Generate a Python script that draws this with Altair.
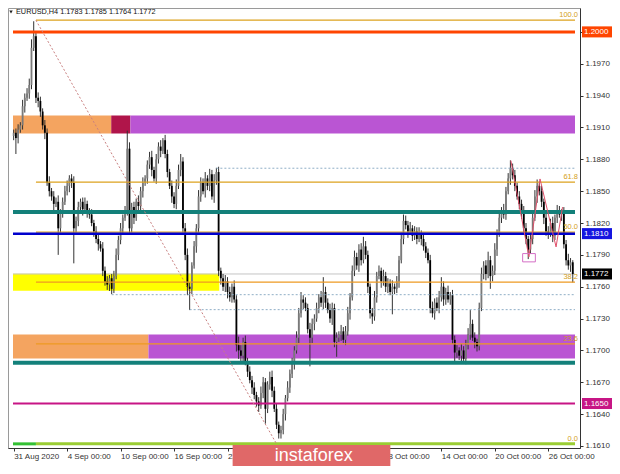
import json
import altair as alt
import pandas as pd

# ---------------- data (prices in pips above BASE) ----------------
BASE = 1.16
PIP = 0.0001

FIRST_OPEN = 302
CLOSE = [
    305, 300, 308, 312, 330, 338, 342, 350, 385, 396, 338, 335,
    325, 312, 305, 258, 250, 245, 238, 240, 215, 230, 240, 250,
    255, 262, 258, 215, 222, 235, 240, 233, 238, 230, 228, 220,
    212, 205, 200, 196, 175, 165, 162, 168, 158, 170, 190, 204,
    215, 225, 232, 290, 215, 235, 225, 240, 236, 250, 258, 262,
    275, 282, 270, 262, 280, 292, 288, 298, 285, 268, 255, 245,
    238, 255, 270, 278, 215, 190, 160, 158, 180, 198, 215, 245,
    258, 250, 262, 255, 266, 245, 260, 268, 175, 168, 160, 165,
    155, 150, 160, 148, 105, 100, 95, 108, 90, 80, 72, 65,
    58, 52, 48, 60, 70, 45, 68, 75, 62, 45, 30, 22,
    25, 40, 55, 65, 78, 88, 100, 112, 135, 148, 145, 140,
    120, 112, 125, 130, 140, 150, 145, 155, 145, 138, 130, 140,
    108, 112, 115, 118, 110, 118, 135, 150, 175, 188, 180, 195,
    185, 198, 190, 160, 135, 132, 150, 170, 175, 165, 170, 160,
    163, 155, 160, 158, 165, 185, 205, 222, 218, 212, 215, 208,
    212, 205, 210, 205, 198, 192, 185, 140, 135, 145, 140, 150,
    160, 148, 155, 148, 152, 110, 98, 100, 95, 100, 92, 105,
    115, 125, 112, 108, 104, 140, 172, 180, 172, 185, 170, 175,
    195, 210, 225, 232, 228, 250, 262, 272, 265, 255, 245, 238,
    230, 215, 205, 195, 205, 225, 245, 255, 250, 240, 225, 212,
    210, 220, 208, 225, 232, 228, 230, 200, 185, 180, 183, 172,
]
UP_WICK = [
    3, 4, 5, 3, 6, 4, 5, 6, 8, 14, 4, 5,
    4, 3, 5, 4, 6, 3, 5, 4, 6, 3, 4, 5,
    5, 3, 4, 6, 4, 5, 3, 4, 6, 3, 4, 5,
    3, 5, 4, 3, 6, 4, 5, 3, 4, 5, 6, 4,
    5, 3, 4, 17, 6, 4, 5, 3, 6, 4, 5, 3,
    4, 5, 6, 3, 5, 4, 6, 2, 5, 4, 3, 5,
    4, 6, 5, 7, 4, 5, 6, 4, 3, 5, 4, 6,
    5, 4, 6, 3, 5, 4, 6, 4, 5, 3, 4, 6,
    4, 5, 3, 6, 4, 8, 5, 4, 6, 3, 5, 4,
    5, 3, 4, 6, 5, 4, 3, 5, 6, 4, 5, 3,
    4, 5, 3, 6, 4, 5, 4, 6, 5, 7, 4, 5,
    4, 6, 5, 4, 5, 3, 6, 14, 5, 4, 6, 5,
    4, 5, 3, 6, 4, 5, 6, 4, 5, 6, 4, 5,
    6, 9, 5, 4, 3, 5, 6, 4, 5, 3, 6, 4,
    5, 4, 6, 3, 5, 4, 6, 6, 5, 4, 6, 3,
    5, 4, 6, 3, 5, 4, 4, 5, 6, 4, 5, 6,
    9, 5, 4, 6, 3, 5, 4, 5, 3, 6, 4, 5,
    6, 13, 4, 5, 3, 5, 6, 4, 5, 8, 4, 5,
    6, 4, 5, 3, 6, 4, 5, 7, 4, 5, 3, 5,
    4, 6, 5, 3, 5, 4, 6, 6, 4, 5, 3, 4,
    5, 4, 6, 3, 5, 4, 3, 5, 4, 6, 4, 2,
]
DOWN_WICK = [
    4, 15, 5, 3, 4, 6, 3, 5, 4, 3, 5, 6,
    5, 4, 6, 3, 5, 4, 6, 3, 25, 4, 5, 3,
    4, 6, 5, 33, 4, 5, 3, 6, 4, 5, 4, 3,
    5, 4, 6, 3, 5, 4, 5, 6, 5, 4, 3, 5,
    4, 6, 3, 5, 5, 4, 6, 3, 5, 4, 6, 3,
    5, 4, 6, 3, 5, 4, 6, 3, 4, 5, 3, 6,
    4, 5, 3, 6, 4, 5, 8, 20, 5, 3, 6, 4,
    5, 3, 6, 4, 5, 3, 6, 4, 5, 6, 4, 5,
    6, 4, 5, 3, 6, 8, 5, 6, 4, 5, 3, 6,
    4, 5, 6, 3, 5, 14, 4, 5, 6, 3, 4, 5,
    5, 4, 6, 3, 5, 4, 6, 3, 5, 4, 6, 3,
    4, 27, 5, 6, 3, 5, 4, 6, 5, 3, 4, 6,
    5, 14, 4, 6, 3, 5, 4, 6, 3, 5, 4, 6,
    5, 3, 4, 6, 5, 7, 4, 5, 3, 6, 4, 5,
    6, 3, 21, 5, 4, 6, 3, 5, 4, 6, 3, 5,
    4, 5, 3, 6, 4, 5, 3, 5, 4, 6, 3, 5,
    4, 6, 5, 3, 5, 4, 8, 5, 4, 6, 3, 5,
    4, 5, 3, 6, 5, 4, 3, 5, 6, 4, 12, 5,
    4, 6, 3, 5, 4, 5, 3, 6, 4, 5, 3, 5,
    6, 4, 5, 9, 4, 5, 3, 6, 4, 5, 6, 4,
    5, 3, 6, 4, 5, 3, 6, 4, 5, 4, 6, 8,
]

# time labels (those hidden behind the logo in the reference are not drawn)
X_TICKS = [0, 24, 48, 72, 96, 168, 192, 216, 240]
X_LABELS = ["31 Aug 2020", "4 Sep 00:00", "10 Sep 00:00", "16 Sep 00:00",
            "22 Sep 00:00", "8 Oct 00:00", "14 Oct 00:00", "20 Oct 00:00",
            "26 Oct 00:00"]
Y_TICKS = [1.1610, 1.1640, 1.1670, 1.1700, 1.1730, 1.1760, 1.1790, 1.1820,
           1.1850, 1.1880, 1.1910, 1.1940, 1.1970, 1.2000]

HEADER = "EURUSD,H4  1.1783 1.1785 1.1764 1.1772"

# zones (rectangles)
ZONE_X0 = [-0.3, 43.8, 52.4, -0.3, -0.3, 60.5]
ZONE_X1 = [43.8, 52.4, 252, 92.3, 60.5, 252]
ZONE_LO = [1.19044, 1.19044, 1.19044, 1.17563, 1.16925, 1.16925]
ZONE_HI = [1.19212, 1.19212, 1.19212, 1.17722, 1.17150, 1.17150]
ZONE_COLOR = ["#F4A460", "#B0154A", "#BA55D3", "#FFFF00", "#F4A460", "#BA55D3"]

# horizontal levels
LEVEL_PRICE = [1.2000, 1.2011, 1.18586, 1.18303, 1.18115, 1.1810, 1.17644,
               1.17062, 1.16883, 1.1650, 1.1612, 1.1612]
LEVEL_X0 = [-0.3, 10, 10, -0.3, 10, -0.3, 10, 10, -0.3, -0.3, -0.3, 10]
LEVEL_X1 = [252, 252, 252, 252, 252, 252, 252, 252, 252, 252, 10, 252]
LEVEL_COLOR = ["#FF4500", "#DCA21E", "#DCA21E", "#13807A", "#DCA21E", "#0000CD",
               "#EE9A22", "#EE9A22", "#13807A", "#C71585", "#33C033", "#9ACD32"]
LEVEL_WIDTH = [3, 1.3, 1.3, 4, 1.3, 2.5, 1.3, 1.3, 4, 2, 3, 3]

FIB_TEXT = ["100.0", "61.8", "50.0", "38.2", "23.6", "0.0"]
FIB_PRICE = [1.2011, 1.18586, 1.18115, 1.17644, 1.17062, 1.1612]

DOTTED_PRICE = [1.18716, 1.17525, 1.17384]
DOTTED_X0 = [91, 44, 79]

TREND_X = [10, 118]
TREND_P = [1.2011, 1.1612]

ZIG_X = [223.2, 231.3, 236.3, 243.5, 246.4]
ZIG_P = [1.18788, 1.17881, 1.18615, 1.17975, 1.18350]

BOX_X = [228.5, 234.2]
BOX_P = [1.17834, 1.17912]

TAG_TEXT = ["1.2000", "1.1810", "1.1772", "1.1650"]
TAG_PRICE = [1.2000, 1.1810, 1.1772, 1.1650]
TAG_COLOR = ["#FF4500", "#1515E0", "#000000", "#C71585"]

LAST_PRICE = 1.1772

LOGO_TEXT = "instaforex"
LOGO_X = [98.3, 169.1]
LOGO_P = [1.16109, 1.15910]
LOGO_BASELINE = 1.15955

# ---------------- build tables ----------------
df = pd.DataFrame({"i": list(range(len(CLOSE))), "c": CLOSE})
df["o"] = [FIRST_OPEN] + CLOSE[:-1]
df["h"] = df[["o", "c"]].max(axis=1) + pd.Series(UP_WICK)
df["l"] = df[["o", "c"]].min(axis=1) - pd.Series(DOWN_WICK)
df["col"] = ["#7a7a7a" if c >= o else "#000000" for o, c in zip(df["o"], df["c"])]
for k in ["o", "c", "h", "l"]:
    df[k] = BASE + df[k] * PIP

XS = alt.Scale(domain=[-0.3, 252], nice=False, zero=False)
YS = alt.Scale(domain=[1.16081, 1.20225], nice=False, zero=False)

label_expr = f"{json.dumps(X_LABELS)}[indexof({json.dumps(X_TICKS)}, datum.value)]"
X_AXIS = alt.Axis(values=X_TICKS, labelExpr=label_expr, labelAlign="left",
                  labelPadding=1, tickSize=3, grid=False, labelFlush=False,
                  labelOverlap=False, domainColor="#333", tickColor="#333",
                  labelColor="#333", labelFontSize=8, labelFont="Liberation Sans",
                  zindex=0)
Y_AXIS = alt.Axis(orient="right", values=Y_TICKS, format=".4f", tickSize=3,
                  labelPadding=2, grid=False, labelFlush=False, labelOverlap=False,
                  domainColor="#333", tickColor="#333", labelColor="#333",
                  labelFontSize=8, labelFont="Liberation Sans", zindex=0)


def X(f):
    return alt.X(f, type="quantitative", scale=XS, axis=X_AXIS, title=None)


def Y(f):
    return alt.Y(f, type="quantitative", scale=YS, axis=Y_AXIS, title=None)


zdf = pd.DataFrame({"x0": ZONE_X0, "x1": ZONE_X1, "lo": ZONE_LO, "hi": ZONE_HI, "col": ZONE_COLOR})
zones = alt.Chart(zdf).mark_rect().encode(
    x=X("x0"), x2=alt.X2("x1"), y=Y("lo"), y2=alt.Y2("hi"),
    color=alt.Color("col:N", scale=None))

bid = alt.Chart(pd.DataFrame({"x0": [-0.3], "x1": [252], "p": [LAST_PRICE]})).mark_rule(
    color="#c4c4c4", strokeWidth=1).encode(x=X("x0"), x2=alt.X2("x1"), y=Y("p"))

wicks = alt.Chart(df).mark_rule(color="#333333", strokeWidth=1).encode(
    x=X("i"), y=Y("l"), y2=alt.Y2("h"))
bodies = alt.Chart(df).mark_bar(size=1.8).encode(
    x=X("i"), y=Y("o"), y2=alt.Y2("c"), color=alt.Color("col:N", scale=None))

ldf = pd.DataFrame({"x0": LEVEL_X0, "x1": LEVEL_X1, "p": LEVEL_PRICE,
                    "col": LEVEL_COLOR, "w": LEVEL_WIDTH})
levels = alt.Chart(ldf).mark_rule().encode(
    x=X("x0"), x2=alt.X2("x1"), y=Y("p"),
    color=alt.Color("col:N", scale=None),
    strokeWidth=alt.StrokeWidth("w:Q", scale=None))

ddf = pd.DataFrame({"x0": DOTTED_X0, "x1": [252] * len(DOTTED_X0), "p": DOTTED_PRICE})
dotted = alt.Chart(ddf).mark_rule(color="#8FAEC6", strokeWidth=1, strokeDash=[2, 2]).encode(
    x=X("x0"), x2=alt.X2("x1"), y=Y("p"))

trend = alt.Chart(pd.DataFrame({"x": TREND_X, "p": TREND_P})).mark_line(
    color="#C98080", strokeWidth=1, strokeDash=[2, 2]).encode(x=X("x"), y=Y("p"))

zig = alt.Chart(pd.DataFrame({"x": ZIG_X, "p": ZIG_P})).mark_line(
    color="#E0506A", strokeWidth=1).encode(x=X("x"), y=Y("p"))

box = alt.Chart(pd.DataFrame({"x0": [BOX_X[0]], "x1": [BOX_X[1]], "lo": [BOX_P[0]], "hi": [BOX_P[1]]})).mark_rect(
    fillOpacity=0, stroke="#D46FC6", strokeWidth=1).encode(
    x=X("x0"), x2=alt.X2("x1"), y=Y("lo"), y2=alt.Y2("hi"))

fdf = pd.DataFrame({"t": FIB_TEXT, "p": FIB_PRICE})
fiblabels = alt.Chart(fdf).mark_text(align="right", baseline="bottom", dy=-1, fontSize=7.5,
                                     color="#D4A020", font="Liberation Sans").encode(
    x=alt.value(570), y=Y("p"), text="t:N")

tdf = pd.DataFrame({"t": TAG_TEXT, "p": TAG_PRICE, "col": TAG_COLOR})
tdf["top"] = tdf["p"] + 0.00052
tdf["bot"] = tdf["p"] - 0.00052
tags = alt.Chart(tdf).mark_rect().encode(
    x=alt.value(574), x2=alt.value(604), y=Y("top"), y2=alt.Y2("bot"),
    color=alt.Color("col:N", scale=None))
tagtext = alt.Chart(tdf).mark_text(align="left", baseline="middle", fontSize=8, color="white",
                                   font="Liberation Sans").encode(
    x=alt.value(576), y=Y("p"), text="t:N")

hdr_df = pd.DataFrame({"t": [HEADER]})
tri = alt.Chart(hdr_df).mark_point(shape="triangle-down", filled=True, size=12, color="#222",
                                   opacity=1).encode(x=alt.value(3), y=alt.value(4))
hdr = alt.Chart(hdr_df).mark_text(align="left", baseline="middle", fontSize=7.3, color="#111",
                                  font="Liberation Sans").encode(
    x=alt.value(8), y=alt.value(4), text="t:N")

logo_df = pd.DataFrame({"x0": [LOGO_X[0]], "x1": [LOGO_X[1]], "top": [LOGO_P[0]], "bot": [LOGO_P[1]],
                        "xm": [(LOGO_X[0] + LOGO_X[1]) / 2 + 1], "pb": [LOGO_BASELINE], "t": [LOGO_TEXT]})
logo = alt.Chart(logo_df).mark_rect(color="#E06868").encode(
    x=X("x0"), x2=alt.X2("x1"), y=Y("top"), y2=alt.Y2("bot"))
logotext = alt.Chart(logo_df).mark_text(align="center", baseline="alphabetic", fontSize=18,
                                        color="white", font="Liberation Sans").encode(
    x=X("xm"), y=Y("pb"), text="t:N")

chart = alt.layer(
    zones, bid, wicks, bodies, levels, dotted, trend, zig, box, fiblabels,
    tags, tagtext, tri, hdr, logo, logotext
).properties(
    width=572, height=440,
    autosize=alt.AutoSizeParams(type="none"),
    padding={"left": 0, "top": 0, "right": 32, "bottom": 18},
).configure(background="white").configure_view(stroke="#9a9a9a", strokeWidth=1)

chart.save("out.html", embed_options={"renderer": "svg", "actions": False})
